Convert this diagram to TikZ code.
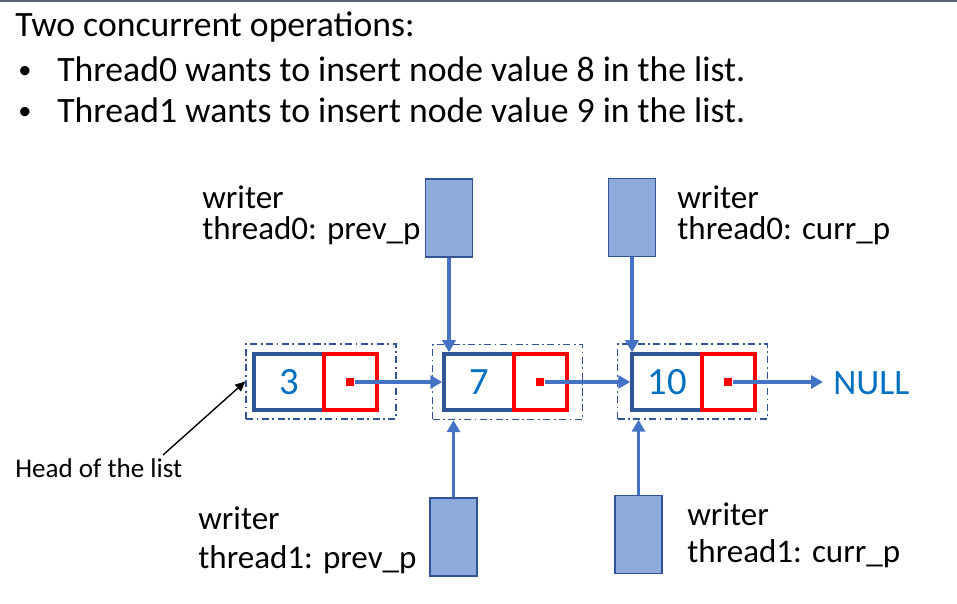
\documentclass[tikz,border=0pt]{standalone}
\usepackage{fontspec}
\setmainfont{Carlito}
\usetikzlibrary{positioning,arrows.meta}
\definecolor{EdgeBlue}{RGB}{47,85,151}
\definecolor{LinkBlue}{RGB}{68,114,196}
\definecolor{ValueBlue}{RGB}{0,112,192}
\definecolor{WriterFill}{RGB}{143,170,220}
\definecolor{BarGray}{RGB}{89,100,112}
\tikzset{
  link/.style={-{Triangle[length=2.4mm,width=2.6mm]},line width=2pt,draw=LinkBlue},
  headlink/.style={-{Triangle[length=2mm,width=1.8mm]},line width=0.8pt,draw=black},
  bar/.style={line width=1.2pt,draw=BarGray},
  valbox/.style={draw=EdgeBlue,line width=2pt,minimum width=1.4cm,minimum height=1.12cm,
    text=ValueBlue,font=\fontsize{22}{26}\selectfont},
  nextbox/.style={draw=red,line width=2pt,minimum width=1.06cm,minimum height=1.12cm},
  nextdot/.style={fill=red,minimum size=0.16cm,inner sep=0pt},
  framebox/.style={draw=EdgeBlue,line width=0.8pt,dash pattern=on 4pt off 2pt on 1pt off 2pt,
    minimum width=3cm,minimum height=1.5cm},
  writerbox/.style={draw=EdgeBlue,fill=WriterFill,line width=1pt,
    minimum width=0.94cm,minimum height=1.56cm},
  txt/.style={inner sep=0pt,anchor=base west,font=\fontsize{20.3}{24}\selectfont},
  lbl/.style={inner sep=0pt,anchor=base west,align=left,font=\fontsize{18.8}{18.2}\selectfont},
  headlbl/.style={inner sep=0pt,anchor=base west,font=\fontsize{15.4}{18}\selectfont}
}
\begin{document}
\begin{tikzpicture}[x=0.02cm,y=-0.02cm]
  \useasboundingbox (0,0) rectangle (957,604);
  \draw[bar] (0,1) -- (957,1);

  % task text
  \node[txt] (title) at (15,37) {Two concurrent operations:};
  \node[txt,font=\fontsize{15}{18}\selectfont] (bul0) at (18,79) {•};
  \node[txt] (op0) at (57,82) {Thread0 wants to insert node value 8 in the list.};
  \node[txt,font=\fontsize{15}{18}\selectfont] (bul1) at (18,120) {•};
  \node[txt] (op1) at (57,123) {Thread1 wants to insert node value 9 in the list.};

  % list nodes
  \node[framebox] (f3) at (321,381.5) {};
  \node[framebox] (f7) at (507.5,382) {};
  \node[framebox] (f10) at (692.5,381.5) {};
  \node[valbox] (v3) at (289,382) {3};
  \node[nextbox,right=-2pt of v3] (p3) {};
  \node[valbox] (v7) at (479,382) {7};
  \node[nextbox,right=-2pt of v7] (p7) {};
  \node[valbox] (v10) at (667,382) {10};
  \node[nextbox,right=-2pt of v10] (p10) {};
  \node[nextdot] (d3) at (p3.center) {};
  \node[nextdot] (d7) at (p7.center) {};
  \node[nextdot] (d10) at (p10.center) {};
  \node[txt,text=ValueBlue] (null) at (833,395) {NULL};

  \draw[link] (d3.east) -- (v7.west);
  \draw[link] (d7.east) -- (v10.west);
  \draw[link,shorten >=0.2cm] (d10.east) -- (d10.east -| null.west);

  % writer pointers
  \node[writerbox] (w0prev) at (449,218) {};
  \node[writerbox] (w0curr) at (632,217.5) {};
  \node[writerbox] (w1prev) at (453.5,537) {};
  \node[writerbox] (w1curr) at (638.5,534.5) {};
  \node[lbl] (l0prev) at (202,240) {writer\\thread0: prev\_p};
  \node[lbl] (l0curr) at (677,240) {writer\\thread0: curr\_p};
  \node[lbl] (l1prev) at (198,568) {writer\\[3.8pt]thread1: prev\_p};
  \node[lbl] (l1curr) at (687,562) {writer\\[2.8pt]thread1: curr\_p};

  \draw[link] (w0prev.south) -- (w0prev.south |- v7.north);
  \draw[link] (w0curr.south) -- (w0curr.south |- v10.north);
  \draw[link] (w1prev.north) -- (w1prev.north |- f7.south);
  \draw[link] (w1curr.north) -- (w1curr.north |- f10.south);

  % head
  \node[headlbl] (head) at (15,478) {Head of the list};
  \coordinate (headfrom) at (163,455);
  \draw[headlink] (headfrom) -- (f3.west);
\end{tikzpicture}
\end{document}
